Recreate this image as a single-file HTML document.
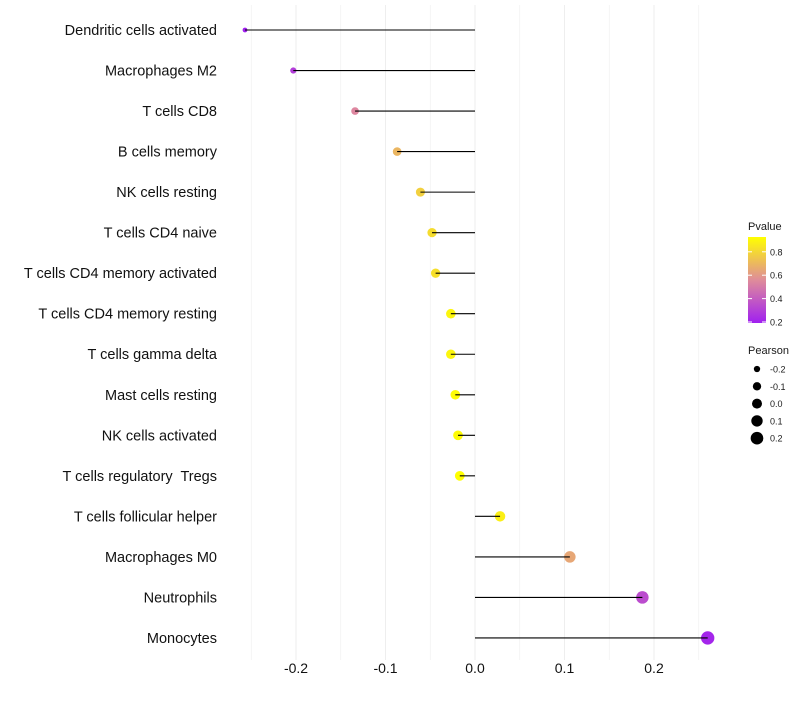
<!DOCTYPE html>
<html><head><meta charset="utf-8"><style>
body{margin:0;background:#fff;font-family:"Liberation Sans",sans-serif}
text{white-space:pre}
</style></head><body>
<svg id="chart" width="800" height="700" xmlns="http://www.w3.org/2000/svg" font-family="Liberation Sans, sans-serif"></svg>
<script>
const categories=["Dendritic cells activated","Macrophages M2","T cells CD8","B cells memory","NK cells resting","T cells CD4 naive","T cells CD4 memory activated","T cells CD4 memory resting","T cells gamma delta","Mast cells resting","NK cells activated","T cells regulatory  Tregs","T cells follicular helper","Macrophages M0","Neutrophils","Monocytes"];
const pearson=[-0.257,-0.203,-0.134,-0.087,-0.061,-0.048,-0.044,-0.027,-0.027,-0.022,-0.019,-0.017,0.028,0.106,0.187,0.260];
const pvalue=[0.20,0.30,0.55,0.70,0.78,0.82,0.83,0.90,0.90,0.92,0.92,0.93,0.88,0.65,0.35,0.22];
const xTicks=[-0.2,-0.1,0.0,0.1,0.2];
const xTickLabels=["-0.2","-0.1","0.0","0.1","0.2"];
const pTicks=[0.2,0.4,0.6,0.8];
const sizeLegend=[-0.2,-0.1,0.0,0.1,0.2];

const svg=document.getElementById('chart');
const NS="http://www.w3.org/2000/svg";
function mk(t,a,p){const e=document.createElementNS(NS,t);for(const k in a)e.setAttribute(k,a[k]);(p||svg).appendChild(e);return e;}
const x=v=>475+v*895;
const y=i=>30+i*40.53;
const r=v=>Math.sqrt(Math.max(3,25+75*v));
function lerp(a,b,t){return a.map((c,i)=>Math.round(c+(b[i]-c)*t));}
const stops=[[0.2,[160,32,240]],[0.55,[222,135,160]],[0.93,[255,255,0]]];
function col(p){p=Math.max(0.2,Math.min(0.93,p));for(let i=0;i<stops.length-1;i++){if(p<=stops[i+1][0]){const t=(p-stops[i][0])/(stops[i+1][0]-stops[i][0]);const c=lerp(stops[i][1],stops[i+1][1],t);return `rgb(${c})`;}}return 'rgb(255,255,0)';}

for(let v=-0.25;v<=0.251;v+=0.05){
  const g=mk('line',{x1:x(v),x2:x(v),y1:5,y2:660,stroke:'#eeeeee','stroke-width':Math.abs(Math.round(v*20))%2===0?1:0.6});
  
  
}
xTicks.forEach((v,i)=>{
  const t=mk('text',{x:x(v),y:673,'font-size':14,'text-anchor':'middle',fill:'#111'});
  t.textContent=xTickLabels[i];
  
  
});
categories.forEach((c,i)=>{
  const t=mk('text',{x:217,y:y(i)+5,'font-size':14.5,'text-anchor':'end',fill:'#111'});
  t.textContent=c;
  
  
  const d=mk('circle',{cx:x(pearson[i]),cy:y(i),r:r(pearson[i]),fill:col(pvalue[i])});
  
  
  const l=mk('line',{x1:x(0),x2:x(pearson[i]),y1:y(i),y2:y(i),stroke:'#000','stroke-width':1.1});
  
  
});
const lt=mk('text',{x:748,y:230,'font-size':11,fill:'#1a1a1a'});lt.textContent='Pvalue';


const defs=mk('defs',{});
const gr=mk('linearGradient',{id:'pg',x1:0,y1:1,x2:0,y2:0},defs);
[0,0.25,0.5,0.75,1].forEach(o=>{mk('stop',{offset:o,'stop-color':col(0.2+o*0.73)},gr);});
const cb=mk('rect',{x:748,y:237,width:18,height:86,fill:'url(#pg)'});


const py=p=>322-(p-0.2)*117;
pTicks.forEach(p=>{
  mk('line',{x1:748,x2:752,y1:py(p),y2:py(p),stroke:'#fff'});
  mk('line',{x1:762,x2:766,y1:py(p),y2:py(p),stroke:'#fff'});
  const t=mk('text',{x:770,y:py(p)+3.5,'font-size':9,fill:'#1a1a1a'});t.textContent=p.toFixed(1);
  
  
});
const st=mk('text',{x:748,y:354,'font-size':11,fill:'#1a1a1a'});st.textContent='Pearson';


sizeLegend.forEach((v,i)=>{
  const cy=369+i*17.3;
  const c=mk('circle',{cx:757,cy:cy,r:r(v),fill:'#000'});
  
  
  const t=mk('text',{x:770,y:cy+3.5,'font-size':9,fill:'#1a1a1a'});t.textContent=v.toFixed(1);
  
  
});
</script>
</body></html>
